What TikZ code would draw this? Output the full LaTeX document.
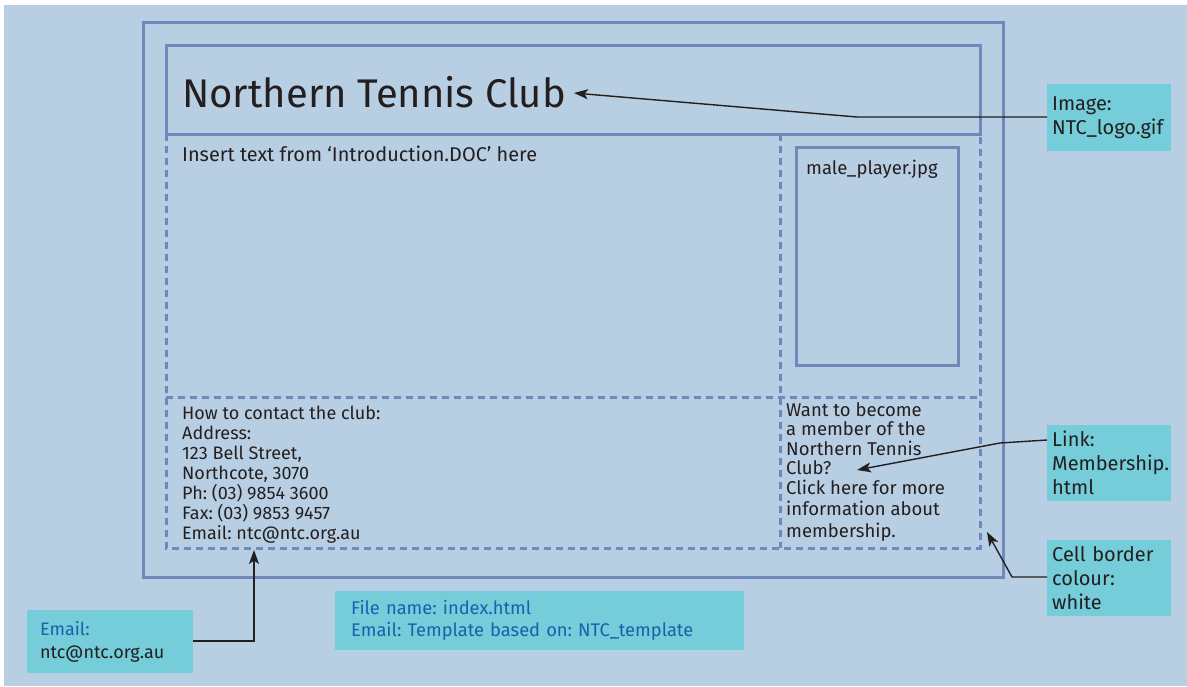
\documentclass[tikz,border=0pt]{standalone}
\usepackage{fontspec}
\setmainfont{Fira Sans}
\usetikzlibrary{arrows.meta}
\definecolor{bgc}{HTML}{B8CFE3}
\definecolor{framec}{HTML}{7088BA}
\definecolor{tealc}{HTML}{74CDD8}
\definecolor{inkc}{HTML}{231F20}
\definecolor{bluec}{HTML}{1E5FAD}
\frenchspacing
\begin{document}
\begin{tikzpicture}[x=1pt,y=-1pt,
 frm/.style={draw=framec,line width=3pt},
 dsh/.style={draw=framec,line width=3pt,dash pattern=on 7pt off 5pt},
 txt/.style={text=inkc,font=\fontsize{18.5}{20}\selectfont,inner sep=0pt,anchor=base west},
 multi/.style={text=inkc,inner sep=0pt,anchor=north west,align=left},
 lbl/.style={fill=tealc,anchor=north west,inner xsep=5pt,inner ysep=0pt,align=left,text=inkc,font=\fontsize{20}{24}\selectfont},
 arr/.style={draw=inkc,line width=1.4pt,-{Stealth[length=14pt,width=10pt,inset=3.5pt]}},
]
\useasboundingbox (0,0) rectangle (1187,686);
\fill[white] (0,0) rectangle (1187,686);
\fill[bgc] (4,5) rectangle (1187,686);
% frames
\draw[frm] (143,22) rectangle (1003,577);
\draw[dsh] (166,134) -- (166,548) -- (980,548) -- (980,134);
\draw[dsh] (780,134) -- (780,548);
\draw[dsh] (166,397) -- (980,397);
\draw[frm] (166,45) rectangle (980,134);
\draw[frm] (796,147) rectangle (958,365);
% texts
\node[txt,font=\fontsize{40}{44}\selectfont] (title) at (182,107) {Northern Tennis Club};
\node[txt,font=\fontsize{19.9}{20}\selectfont] (intro) at (182,161) {Insert text from ‘Introduction.DOC’ here};
\node[txt] (photo) at (806,174) {male\_player.jpg};
\node[multi,font=\fontsize{18}{20}\selectfont] (contact) at (182,406) {How to contact the club:\\Address:\\123 Bell Street,\\Northcote, 3070\\Ph: (03) 9854 3600\\Fax: (03) 9853 9457\\Email: ntc@ntc.org.au};
\node[multi,font=\fontsize{18.5}{19.5}\selectfont] (member) at (786,402) {Want to become\\a member of the\\Northern Tennis\\Club?\\Click here for more\\[2pt]information about\\[2pt]membership.};
% labels
\node[lbl,minimum width=124pt,minimum height=67pt,text width=114pt] (imglbl) at (1047,84) {Image:\\NTC\_logo.gif};
\node[lbl,minimum width=124pt,minimum height=76pt,text width=114pt] (linklbl) at (1047,425) {Link:\\Membership.\\html};
\node[lbl,minimum width=124pt,minimum height=76pt,text width=114pt] (celllbl) at (1047,540) {Cell border\\colour:\\white};
\node[lbl,minimum width=166pt,minimum height=63pt,text width=140pt,inner xsep=13pt,font=\fontsize{18}{23}\selectfont] (emaillbl) at (27,610) {\textcolor{bluec}{Email:}\\ntc@ntc.org.au};
\node[lbl,minimum width=409pt,minimum height=59pt,text width=377pt,inner xsep=16pt,text=bluec,font=\fontsize{18.3}{22}\selectfont] (filelbl) at (335,591) {File name: index.html\\Email: Template based on: NTC\_template};
% connector points
\coordinate (titletip) at (574,93);
\coordinate (membertip) at (857,470);
\coordinate (celltip) at (987,532);
\coordinate (emailtip) at (254,550);
\draw[arr] (imglbl.west |- 0,117) -- (857,117) -- (titletip);
\draw[arr] (linklbl.west |- 0,440) -- (1000,443) -- (membertip);
\draw[arr] (celllbl.west |- 0,577) -- (1012,577) -- (celltip);
\draw[arr] (emaillbl.east |- 0,641) -- (254,641) -- (emailtip);
\end{tikzpicture}
\end{document}
